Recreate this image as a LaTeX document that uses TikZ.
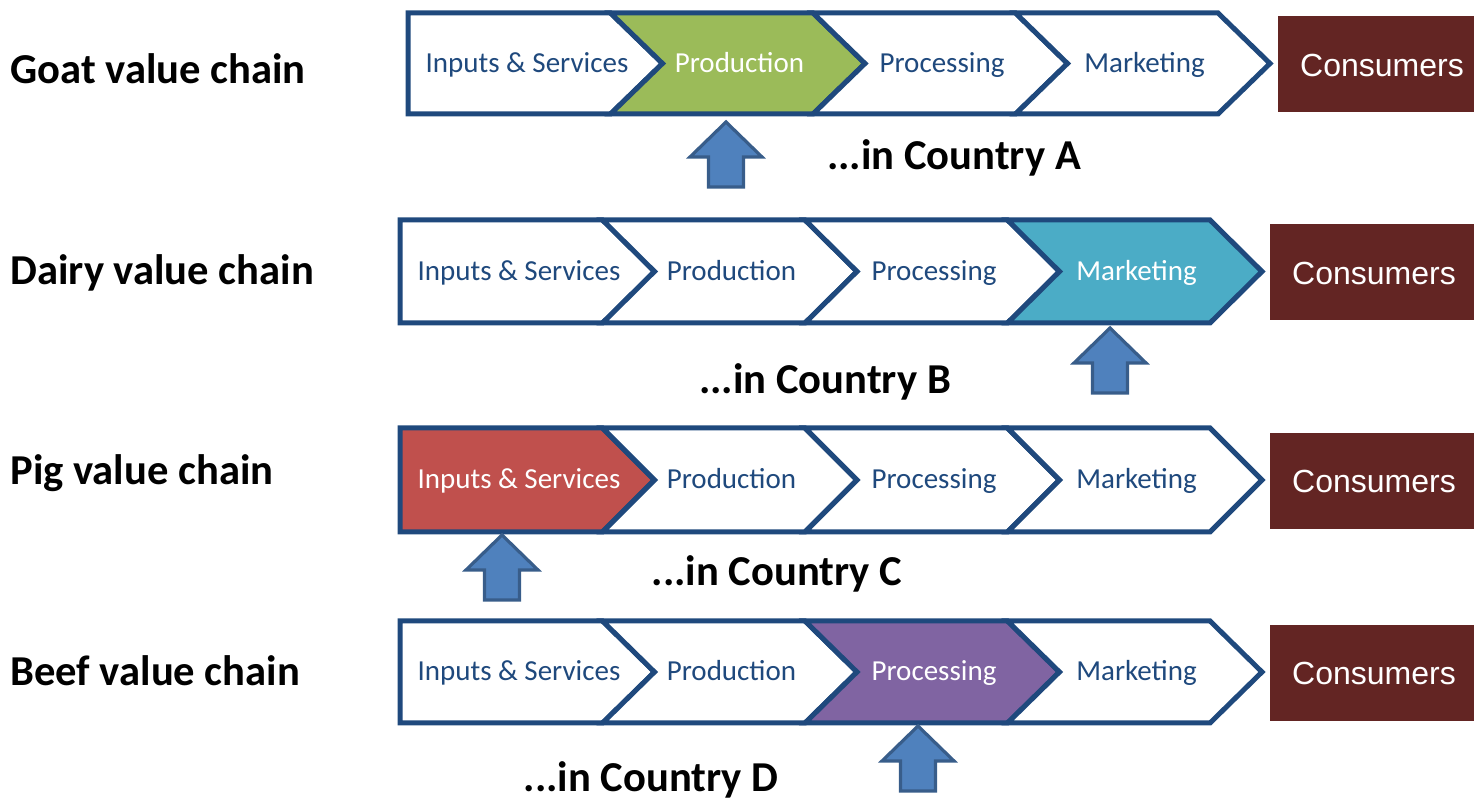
\documentclass[tikz,border=0pt]{standalone}
\usepackage{fontspec}
\setmainfont{Carlito}
\newfontfamily\arialfont{Liberation Sans}
\usepackage{xcolor}

\definecolor{chainblue}{HTML}{1F497D}
\definecolor{goatgreen}{HTML}{9BBB59}
\definecolor{dairyteal}{HTML}{4BACC6}
\definecolor{pigred}{HTML}{C0504D}
\definecolor{beefpurple}{HTML}{8064A2}
\definecolor{consred}{HTML}{632523}
\definecolor{arrowfill}{HTML}{4F81BD}
\definecolor{arrowline}{HTML}{385D8A}

\tikzset{
  seg/.style={draw=chainblue, line width=2.5pt},
  segtext/.style={anchor=base, inner sep=0pt, font=\fontsize{14.5}{17}\selectfont},
  consbox/.style={fill=consred},
  constext/.style={anchor=base, inner sep=0pt, text=white, font=\arialfont\fontsize{16}{19}\selectfont},
  chainlabel/.style={anchor=base west, inner sep=0pt, font=\fontsize{21.3}{25}\selectfont\bfseries},
  countrylabel/.style={anchor=base, inner sep=0pt, font=\fontsize{21.3}{25}\selectfont\bfseries},
  uparrow/.style={fill=arrowfill, draw=arrowline, line width=1.6pt, line join=miter}
}

\begin{document}
\begin{tikzpicture}[x=0.5pt,y=-0.5pt]
    \useasboundingbox (0,0) rectangle (1474,801);

    % one row per value chain
    \foreach \row/\xa/\yt/\yb/\hi/\hicol/\name/\ly/\country/\cx/\cy/\ax/\at in {
        goat/408/13/114/2/goatgreen/Goat/84/A/954/170/726/122,
        dairy/400/220/323/4/dairyteal/Dairy/285/B/825/394/1110/328,
        pig/400/428/532/1/pigred/Pig/485/C/777/586/502/535,
        beef/400/621/723/3/beefpurple/Beef/686/D/651/792/918/726}{
        \pgfmathsetmacro\ym{(\yt+\yb)/2}
        \node[chainlabel] (\row-label) at (10,\ly) {\name\ value chain};
        \foreach \k/\seg in {1/Inputs \& Services,2/Production,3/Processing,4/Marketing}{
            \pgfmathsetmacro\bx{\xa+(\k-1)*202.5}
            \ifnum\k=1 \def\nd{0}\def\tx{119}\else\def\nd{52}\def\tx{129}\fi
            \ifnum\k=\hi \def\segfill{\hicol}\def\segcol{white}\else\def\segfill{white}\def\segcol{chainblue}\fi
            \draw[seg, fill=\segfill] (\bx,\yt) -- (\bx+202.5,\yt) -- (\bx+254.5,\ym)
                -- (\bx+202.5,\yb) -- (\bx,\yb) -- (\bx+\nd,\ym) -- cycle;
            \node[segtext, text=\segcol] (\row-\k) at (\bx+\tx,\ym+9) {\seg};
        }
        \fill[consbox] (\xa+870,\ym-47) rectangle (1474,\ym+49);
        \node[constext] (\row-cons) at (\xa+974,\ym+13) {Consumers};
        \draw[uparrow] (\ax,\at) -- ++(36,35) -- ++(-18.5,0) -- ++(0,30) -- ++(-35,0)
            -- ++(0,-30) -- ++(-18.5,0) -- cycle;
        \node[countrylabel] (\row-country) at (\cx,\cy) {...in Country \country};
    }
\end{tikzpicture}
\end{document}
